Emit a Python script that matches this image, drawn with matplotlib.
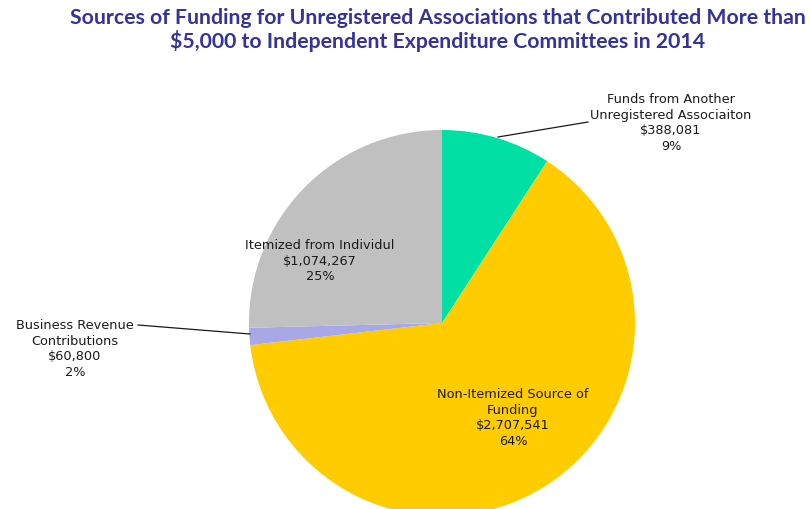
import numpy as np
import matplotlib
matplotlib.use('Agg')
import matplotlib.pyplot as plt

# 数据
labels = ['Funds from Another\nUnregistered Associaiton', 'Non-Itemized Source of\nFunding',
          'Business Revenue\nContributions', 'Itemized from Individul']
values = [388081, 2707541, 60800, 1074267]
percents = [9, 64, 2, 25]
colors = ['#00E0A4', '#FFCC00', '#A8A8E8', '#C0C0C0']

title = ('Sources of Funding for Unregistered Associations that Contributed More than\n'
         '$5,000 to Independent Expenditure Committees in 2014')

W, H = 812, 509
fig = plt.figure(figsize=(W / 100, H / 100), dpi=100)

# 饼图中心和半径（像素）
cx, cy, r = 442, 323, 193
ax = fig.add_axes([(cx - r) / W, 1 - (cy + r) / H, 2 * r / W, 2 * r / H])
ax.pie(values, colors=colors, startangle=90, counterclock=False, radius=1,
       wedgeprops=dict(linewidth=0))
ax.set_xlim(-1, 1)
ax.set_ylim(-1, 1)
ax.set_aspect('equal')
ax.axis('off')


def px(x, y):
    """像素坐标转数据坐标"""
    return (x - cx) / r, (cy - y) / r


# 标签位置（像素）
label_pos = [(671, 123), (513, 418), (75, 349), (320, 261)]
for i in range(len(values)):
    txt = '%s\n$%s\n%d%%' % (labels[i], format(values[i], ','), percents[i])
    x, y = px(*label_pos[i])
    ax.text(x, y, txt, ha='center', va='center', fontsize=9.3, color='#1a1a1a',
            linespacing=1.28, clip_on=False)

# 引线
for (x0, y0), (x1, y1) in [((498, 137), (588, 122)), ((138, 325), (250, 334))]:
    a, b = px(x0, y0)
    c, d = px(x1, y1)
    ax.plot([a, c], [b, d], color='#1a1a1a', lw=0.9, clip_on=False)

fig.text(438 / W, 1 - 30 / H, title, ha='center', va='center', fontsize=15.3,
         fontweight='bold', color='#333399', family=['Lato', 'DejaVu Sans'], linespacing=1.12)

fig.savefig('out.png', dpi=100)
